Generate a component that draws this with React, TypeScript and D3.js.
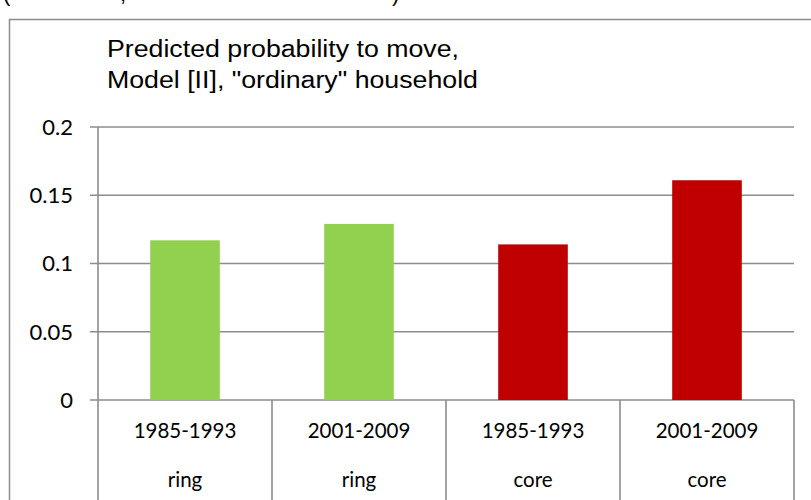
import React, { useEffect, useRef } from 'react';
import * as d3 from 'd3';

const periods = ['1985-1993', '2001-2009', '1985-1993', '2001-2009'];
const zones = ['ring', 'ring', 'core', 'core'];
const probs = [0.117, 0.129, 0.114, 0.161];
const yTicks = [0, 0.05, 0.1, 0.15, 0.2];
const titleLines = ['Predicted probability to move,', 'Model [II], "ordinary" household'];

const App = () => {
  const svgRef = useRef<SVGSVGElement | null>(null);
  const width = 811;
  const height = 500;

  useEffect(() => {
    if (!svgRef.current) return;
    const svg = d3.select(svgRef.current);
    svg.selectAll('*').remove();

    const left = 98, right = 794, top = 127, bottom = 400;
    const grey = '#8c8c8c';

    // bits of the caption above, cut off by the crop
    svg.append('g').selectAll('text')
      .data([{ t: '(', x: 3 }, { t: ',', x: 120 }, { t: ')', x: 392 }])
      .join('text')
      .attr('x', d => d.x).attr('y', 1)
      .attr('font-family', 'Liberation Sans, Arial, sans-serif')
      .attr('font-size', 22)
      .text(d => d.t);

    // chart frame (runs off the right/bottom edge)
    svg.append('rect')
      .attr('x', 9.5).attr('y', 19.5)
      .attr('width', 900).attr('height', 600)
      .attr('fill', '#fff').attr('stroke', grey).attr('stroke-width', 1.5);

    // title
    svg.append('g')
      .attr('transform', 'translate(107,0) scale(1.1,1)')
      .selectAll('text')
      .data(titleLines)
      .join('text')
      .attr('x', 0)
      .attr('y', (d, i) => 57 + i * 31)
      .attr('font-family', 'Liberation Sans, Arial, sans-serif')
      .attr('font-size', 24.3)
      .attr('fill', '#000')
      .text(d => d);

    const x = d3.scaleBand<number>()
      .domain(d3.range(probs.length))
      .range([left, right])
      .paddingInner(0.6)
      .paddingOuter(0.3);

    const y = d3.scaleLinear().domain([0, 0.2]).range([bottom, top]);

    // gridlines + ticks
    svg.append('g').selectAll('line')
      .data(yTicks)
      .join('line')
      .attr('x1', left - 8).attr('x2', right)
      .attr('y1', d => y(d)).attr('y2', d => y(d))
      .attr('stroke', grey).attr('stroke-width', 1.6);

    svg.append('g').selectAll('text')
      .data(yTicks)
      .join('text')
      .attr('x', 73)
      .attr('y', d => y(d))
      .attr('dy', '0.36em')
      .attr('text-anchor', 'end')
      .attr('font-family', 'Lato, sans-serif')
      .attr('font-size', 22)
      .text(d => String(d));

    // bars
    svg.append('g').selectAll('rect')
      .data(probs)
      .join('rect')
      .attr('x', (d, i) => x(i)!)
      .attr('width', x.bandwidth())
      .attr('y', d => y(d))
      .attr('height', d => bottom - y(d))
      .attr('fill', (d, i) => (zones[i] === 'ring' ? '#92d050' : '#c00000'));

    // y axis line
    svg.append('line')
      .attr('x1', left).attr('x2', left)
      .attr('y1', top).attr('y2', height)
      .attr('stroke', grey).attr('stroke-width', 1.6);

    // category dividers
    const step = x.step();
    svg.append('g').selectAll('line')
      .data(d3.range(1, probs.length + 1))
      .join('line')
      .attr('x1', i => left + i * step).attr('x2', i => left + i * step)
      .attr('y1', bottom).attr('y2', height)
      .attr('stroke', grey).attr('stroke-width', 1.6);

    const cx = (i: number) => x(i)! + x.bandwidth() / 2;

    svg.append('g').selectAll('text')
      .data(periods)
      .join('text')
      .attr('x', (d, i) => cx(i))
      .attr('y', 438)
      .attr('text-anchor', 'middle')
      .attr('font-family', 'Lato, sans-serif')
      .attr('font-size', 20.5)
      .text(d => d);

    svg.append('g').selectAll('text')
      .data(zones)
      .join('text')
      .attr('x', (d, i) => cx(i))
      .attr('y', 487)
      .attr('text-anchor', 'middle')
      .attr('font-family', 'Lato, sans-serif')
      .attr('font-size', 20.5)
      .text(d => d);
  }, []);

  return (
    <svg
      ref={svgRef}
      width={width}
      height={height}
      style={{ position: 'fixed', left: 0, top: 0, background: '#fff' }}
    />
  );
};

export default App;
